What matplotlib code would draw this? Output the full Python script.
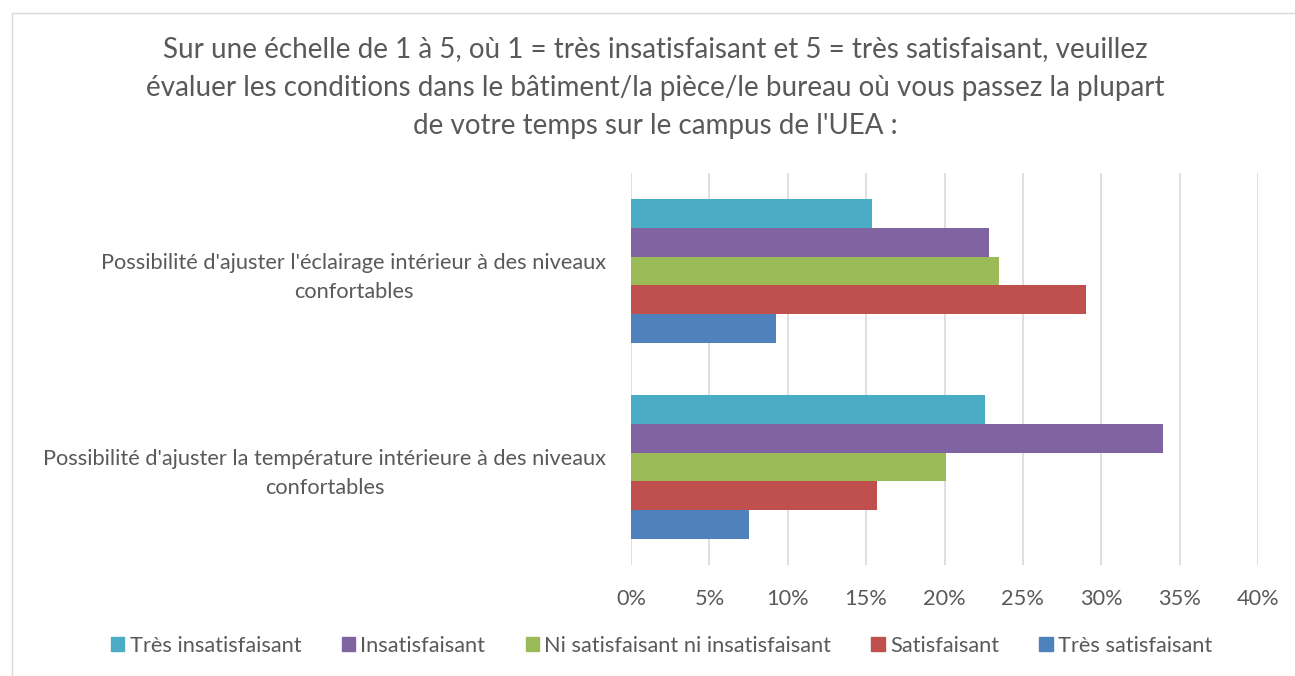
import matplotlib.pyplot as plt
import numpy as np
from matplotlib.patches import Rectangle, Patch

plt.rcParams['font.family'] = ['Lato', 'DejaVu Sans']

categories = ["Possibilité d'ajuster l'éclairage intérieur à des niveaux\nconfortables",
              "Possibilité d'ajuster la température intérieure à des niveaux\nconfortables"]
series = ["Très insatisfaisant", "Insatisfaisant", "Ni satisfaisant ni insatisfaisant",
          "Satisfaisant", "Très satisfaisant"]
tres_insat = [15.4, 22.6]
insat = [22.85, 33.95]
ni_ni = [23.45, 20.1]
satisf = [29.0, 15.7]
tres_satisf = [9.25, 7.55]
values = [tres_insat, insat, ni_ni, satisf, tres_satisf]
colors = ["#4BACC6", "#8064A2", "#9BBB59", "#C0504D", "#4F81BD"]

txt = "#595959"
fig = plt.figure(figsize=(12.95, 6.76), dpi=100)
ax = fig.add_axes([631 / 1295, 1 - 565 / 676, (1258 - 631) / 1295, (565 - 173) / 676])

# outer chart border
fig.patches.append(Rectangle((12 / 1295, -0.01), 1.1, 1 - 13 / 676 + 0.01,
                             transform=fig.transFigure, fill=False,
                             edgecolor="#D9D9D9", linewidth=1))

n = len(series)
group = 0.73
bh = group / n
y = np.arange(len(categories))
for i, (vals, c) in enumerate(zip(values, colors)):
    pos = y - group / 2 + bh * (i + 0.5)
    ax.barh(pos, vals, height=bh, color=c, label=series[i], zorder=3)

ax.set_ylim(len(categories) - 0.5, -0.5)
ax.set_xlim(0, 40)
ax.set_xticks(np.arange(0, 41, 5))
ax.set_xticklabels([f"{v}%" for v in range(0, 41, 5)])
ax.set_yticks(y)
ax.set_yticklabels(categories, multialignment="center", linespacing=1.55)
ax.tick_params(axis="both", length=0, colors=txt, labelsize=15.7)
ax.tick_params(axis="x", pad=17)
ax.tick_params(axis="y", pad=18)
for s in ax.spines.values():
    s.set_visible(False)
ax.grid(axis="x", color="#D9D9D9", linewidth=1.2, zorder=0)
ax.set_axisbelow(True)

fig.text(0.506, 1 - 36 / 676,
         "Sur une échelle de 1 à 5, où 1 = très insatisfaisant et 5 = très satisfaisant, veuillez\n"
         "évaluer les conditions dans le bâtiment/la pièce/le bureau où vous passez la plupart\n"
         "de votre temps sur le campus de l'UEA :",
         ha="center", va="top", fontsize=20, color=txt, linespacing=1.6)

handles = [Patch(color=c, label=s) for s, c in zip(series, colors)]
fig.legend(handles=handles, loc="center", bbox_to_anchor=(0.511, 1 - 646 / 676), ncol=5,
           frameon=False, fontsize=15.7, labelcolor=txt, handlelength=0.6, handleheight=0.6,
           handletextpad=0.25, columnspacing=1.85)

fig.savefig("out.png", dpi=100)
